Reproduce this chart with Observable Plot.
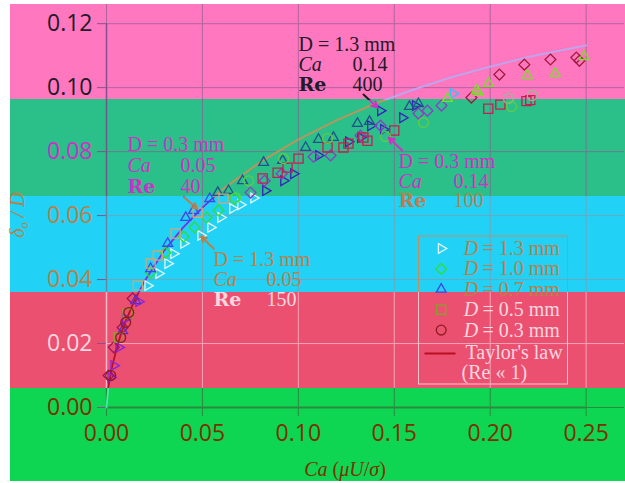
<!DOCTYPE html>
<html><head><meta charset="utf-8">
<script src="https://cdn.jsdelivr.net/npm/d3@7"></script>
<script src="https://cdn.jsdelivr.net/npm/@observablehq/plot@0.6"></script>
<style>
body{margin:0;background:#fff;}
#wrap{position:relative;width:625px;height:483px;overflow:hidden;}
#bg{position:absolute;left:10px;top:4px;width:615px;height:477px;
background:linear-gradient(to bottom,#ff77be 0px,#ff77be 95px,#2bbf8a 95px,#2bbf8a 192px,#22d1f6 192px,#22d1f6 288px,#ec5070 288px,#ec5070 384px,#0ed653 384px,#0ed653 477px);}
#chart{position:absolute;left:0;top:0;}
.ax{position:absolute;font-family:"Liberation Serif",serif;font-size:20px;line-height:20px;white-space:nowrap;}
.ax sub{font-size:0.62em;vertical-align:baseline;position:relative;top:0.3em;}
#xlab{left:345px;top:459px;transform:translateX(-50%);color:#7a3200;}
#ylab{left:18px;top:215px;transform:translate(-50%,-50%) rotate(-90deg);color:#b8804a;}
</style></head>
<body>
<div id="wrap">
<div id="bg"></div>
<svg id="defs" width="0" height="0" style="position:absolute;left:0;top:0"></svg>
<div id="chart"></div>
<div id="xlab" class="ax"><i>Ca</i> (<i>μU</i>/<i>σ</i>)</div>
<div id="ylab" class="ax"><i>δ<sub>o</sub> / D</i></div>
</div>
<script>
// ---------- data ----------
const xTicks = [0, 0.05, 0.10, 0.15, 0.20, 0.25];
const yTicks = [0, 0.02, 0.04, 0.06, 0.08, 0.10, 0.12];

// D = 1.3 mm (right triangles)
const ca13 = [0.0022,0.0038,0.0064,0.0099,0.0168,0.0215,0.0272,0.0319,0.035,0.0402,0.0491,0.0543,0.0595,0.0657,0.0699,0.0767,0.0829,0.0923,0.0975,0.1105,0.1261,0.1324,0.1376,0.1444,0.1428,0.1543,0.161,0.1808];
const d13  = [0.0094,0.0131,0.0188,0.0278,0.0331,0.0381,0.0419,0.045,0.0481,0.0513,0.0538,0.0563,0.0594,0.0622,0.0634,0.0655,0.0678,0.0709,0.0731,0.0788,0.0831,0.0844,0.0881,0.0869,0.0928,0.0906,0.0944,0.0981];
// D = 1.0 mm (diamonds)
const ca10 = [0.0011,0.0038,0.0084,0.0136,0.023,0.0308,0.0402,0.0459,0.0522,0.0584,0.0668,0.0751,0.0824,0.0913,0.1079,0.1168,0.1324,0.1428,0.1626,0.1673,0.1746,0.1902,0.2048,0.2178,0.2314,0.2449,0.2465];
const d10  = [0.01,0.0188,0.025,0.0341,0.0422,0.0484,0.0534,0.0563,0.0594,0.0616,0.0653,0.0672,0.0709,0.0731,0.0784,0.0788,0.085,0.0881,0.0919,0.0928,0.0944,0.0969,0.1041,0.1072,0.1088,0.1094,0.1084];
// D = 0.7 mm (triangles)
const ca07 = [0.0084,0.0152,0.023,0.0319,0.0413,0.0454,0.0538,0.058,0.0636,0.0709,0.0819,0.0918,0.1038,0.1105,0.1183,0.1308,0.1371,0.1579,0.1626,0.1777,0.1928,0.1938,0.1991,0.2194,0.2339,0.249];
const d07  = [0.024,0.0334,0.0434,0.0513,0.0594,0.0616,0.0653,0.0672,0.0678,0.0709,0.0766,0.0772,0.0813,0.0838,0.0844,0.0888,0.0894,0.0941,0.095,0.0966,0.0991,0.0985,0.1013,0.1038,0.1044,0.1097];
// D = 0.5 mm (squares)
const ca05 = [0.0064,0.011,0.0163,0.023,0.0267,0.036,0.0475,0.061,0.0814,0.0892,0.0944,0.1001,0.1152,0.1235,0.1261,0.1339,0.136,0.15,0.199,0.2053,0.2189,0.2209];
const d05  = [0.0219,0.0294,0.0381,0.045,0.0475,0.0544,0.0609,0.0653,0.0716,0.0734,0.075,0.0778,0.0813,0.0813,0.0825,0.0844,0.0834,0.0866,0.0934,0.0947,0.0958,0.0961];
// D = 0.3 mm (circles)
const ca03 = [0.0022,0.0074,0.01,0.0116,0.0673,0.0741,0.0923,0.1152,0.1454,0.1652,0.2095,0.2111,0.2219];
const d03  = [0.01,0.0219,0.0266,0.0297,0.0656,0.0709,0.0778,0.0841,0.0847,0.0891,0.0966,0.0941,0.0975];
// Taylor's law curve
const taylorCa = [0,0.001,0.0025,0.005,0.0075,0.01,0.015,0.02,0.03,0.04,0.05,0.06,0.08,0.10,0.12,0.14,0.16,0.18,0.20,0.22,0.25];
const taylorD  = [0,0.0065,0.0116,0.0178,0.023,0.027,0.034,0.0396,0.049,0.0563,0.0625,0.068,0.0767,0.0838,0.0898,0.095,0.0994,0.1033,0.1066,0.1096,0.1132];

const seriesLabels = ["1.3", "1.0", "0.7", "0.5", "0.3"];
const annHeads = ["D = 1.3 mm", "D = 0.3 mm", "D = 0.3 mm", "D = 1.3 mm"];
const annCa = ["0.14", "0.05", "0.14", "0.05"];
const annRe = ["400", "40", "100", "150"];

// ---------- layout ----------
const W = 625, H = 483, ML = 106, MR = 1, MT = 4, MB = 76, XMAX = 0.27, YMAX = 0.126;
const xAt = px => (px - ML) / (W - ML - MR) * XMAX;
const yAt = py => (H - MB - py) / (H - MB - MT) * YMAX;
const bandPx = [99, 196, 292, 388];
const bandY = bandPx.map(yAt);
const band = v => v > bandY[0] ? 0 : v > bandY[1] ? 1 : v > bandY[2] ? 2 : v > bandY[3] ? 3 : 4;

// palettes per band: [pink, teal, cyan, red, green]
const textPal = ["#231a2a", "#d22ec8", "#b8804a", "#fbd6df", "#7a3200"];
const seriesPal = {
  "1.3": ["#2cc6f2", "#3a1ec0", "#e6f6f2", "#8a22e0", "#8a22e0"],
  "1.0": ["#a01a3c", "#8e3cc8", "#2ee02e", "#a0145a", "#a0145a"],
  "0.7": ["#76e02a", "#24508e", "#3c48e8", "#5a2ed0", "#5a2ed0"],
  "0.5": ["#6a1a38", "#c81c52", "#caa87a", "#86a02a", "#86a02a"],
  "0.3": ["#9ab890", "#62cc44", "#52d84e", "#8e1c1c", "#8e1c1c"]
};

function grad(id, cols) {
  const o = bandPx.map(p => (p / H).toFixed(4));
  let s = `<linearGradient id="${id}" gradientUnits="userSpaceOnUse" x1="0" y1="0" x2="0" y2="${H}">`;
  s += `<stop offset="0" stop-color="${cols[0]}"/>`;
  for (let i = 0; i < 4; i++) {
    s += `<stop offset="${o[i]}" stop-color="${cols[i]}"/><stop offset="${o[i]}" stop-color="${cols[i+1]}"/>`;
  }
  s += `<stop offset="1" stop-color="${cols[4]}"/></linearGradient>`;
  return s;
}
document.getElementById("defs").innerHTML = "<defs>" +
  grad("curveGrad", ["#b8a8f0", "#c89058", "#7a2ee8", "#b81020", "#48eaa8"]) +
  grad("gridGrad", ["#b2639f", "#6c7a8e", "#6fa6bc", "#f3a2b6", "#2c8a3e"]) +
  grad("axisGrad", ["#86508a", "#6a5a86", "#6a86a6", "#f8b8c6", "#2c8a3e"]) +
  grad("annGrad", ["#1a1a1a", "#d22ec8", "#b8804a", "#fbd6df", "#7a3200"]) +
  grad("boxGrad", ["#c09060", "#c09060", "#c09060", "#f4c4d0", "#f4c4d0"]) +
  "</defs>";

const triRight = {
  draw(ctx, size) {
    const s = Math.sqrt(size) * 0.6824, t = s / 2, u = s * Math.sqrt(3) / 2;
    ctx.moveTo(s, 0); ctx.lineTo(-t, u); ctx.lineTo(-t, -u); ctx.closePath();
  }
};
const symbols = {"1.3": triRight, "1.0": "diamond2", "0.7": "triangle2", "0.5": "square2", "0.3": "circle"};
const radii = {"1.3": 4.6, "1.0": 4.9, "0.7": 4.7, "0.5": 5.8, "0.3": 4.9};

const seriesData = {
  "1.3": ca13.map((c, i) => ({ca: c, dd: d13[i]})),
  "1.0": ca10.map((c, i) => ({ca: c, dd: d10[i]})),
  "0.7": ca07.map((c, i) => ({ca: c, dd: d07[i]})),
  "0.5": ca05.map((c, i) => ({ca: c, dd: d05[i]})),
  "0.3": ca03.map((c, i) => ({ca: c, dd: d03[i]}))
};
const taylor = taylorCa.map((c, i) => ({ca: c, dd: taylorD[i]}));

// annotation layout (pixel positions of text blocks)
const annLayout = [
  {px: 298, vx: 352, base: [50, 70, 90.5]},
  {px: 127, vx: 180, base: [150.5, 171.5, 192.5]},
  {px: 398, vx: 453, base: [167, 187, 206]},
  {px: 213, vx: 266, base: [265, 285, 305]}
];
const tcol = base => textPal[band(yAt(base - 6.5))];
const headRows = annHeads.map((t, i) => ({x: xAt(annLayout[i].px), y: yAt(annLayout[i].base[0]), text: t, fill: tcol(annLayout[i].base[0])}));
const caRows = annHeads.map((t, i) => ({x: xAt(annLayout[i].px), y: yAt(annLayout[i].base[1]), text: "Ca", fill: tcol(annLayout[i].base[1])}));
const reRows = annHeads.map((t, i) => ({x: xAt(annLayout[i].px), y: yAt(annLayout[i].base[2]), text: "Re", fill: tcol(annLayout[i].base[2])}));
const valRows = annHeads.flatMap((t, i) => [
  {x: xAt(annLayout[i].vx), y: yAt(annLayout[i].base[1]), text: annCa[i], fill: tcol(annLayout[i].base[1])},
  {x: xAt(annLayout[i].vx), y: yAt(annLayout[i].base[2]), text: annRe[i], fill: tcol(annLayout[i].base[2])}
]);
const arrows = [
  {t: [363, 94], h: [377, 107]},
  {t: [183.3, 196.5], h: [196.7, 208.3]},
  {t: [401.7, 150], h: [388.3, 137.3]},
  {t: [213.3, 248.3], h: [200.7, 236]}
];

// legend
const legRowPx = seriesLabels.map((s, i) => 248 + i * 20.4);
const legMarks = seriesLabels.map((s, i) => ({s, x: xAt(440.7), y: yAt(legRowPx[i])}));
const legText = seriesLabels.map((s, i) => ({x: xAt(463.3), x2: xAt(482), y: yAt(legRowPx[i]), text: "= " + s + " mm", fill: textPal[band(yAt(legRowPx[i]))]}));

const marks = [
  Plot.ruleX(xTicks, {stroke: "url(#gridGrad)", strokeWidth: 1}),
  Plot.ruleY(yTicks, {stroke: "url(#gridGrad)", strokeWidth: 1}),
  Plot.axisX(xTicks, {tickSize: 9, tickPadding: 8, tickFormat: d3.format(".2f"), fontSize: 23, fontFamily: "Open Sans", fill: "#7a3200", stroke: "#2c8a3e", label: null}),
  Plot.axisY(yTicks, {tickSize: 9, tickPadding: 5, tickFormat: d3.format(".2f"), fontSize: 23, fontFamily: "Open Sans", fill: d => textPal[band(d)], stroke: "url(#axisGrad)", label: null}),
  Plot.ruleX([0], {y1: 0, y2: 0.12, stroke: "url(#axisGrad)", strokeWidth: 1.5}),
  Plot.ruleY([0], {x1: 0, x2: 0.25, stroke: "#2c8a3e", strokeWidth: 2}),
  Plot.line(taylor, {x: "ca", y: "dd", stroke: "url(#curveGrad)", strokeWidth: 1.8})
];
for (const s of seriesLabels) {
  marks.push(Plot.dot(seriesData[s], {x: "ca", y: "dd", symbol: symbols[s], r: radii[s], fill: "none",
    stroke: d => seriesPal[s][band(d.dd)], strokeWidth: 1.3}));
}
marks.push(
  Plot.text(headRows, {x: "x", y: "y", text: "text", fill: "fill", textAnchor: "start", lineAnchor: "bottom", fontFamily: "Liberation Serif", fontSize: 20}),
  Plot.text(caRows, {x: "x", y: "y", text: "text", fill: "fill", textAnchor: "start", lineAnchor: "bottom", fontFamily: "Liberation Serif", fontSize: 20, fontStyle: "italic"}),
  Plot.text(reRows, {x: "x", y: "y", text: "text", fill: "fill", textAnchor: "start", lineAnchor: "bottom", fontFamily: "DejaVu Serif", fontSize: 19, fontWeight: "bold"}),
  Plot.text(valRows, {x: "x", y: "y", text: "text", fill: "fill", textAnchor: "start", lineAnchor: "bottom", fontFamily: "Liberation Serif", fontSize: 20}),
  Plot.arrow(arrows, {x1: d => xAt(d.t[0]), y1: d => yAt(d.t[1]), x2: d => xAt(d.h[0]), y2: d => yAt(d.h[1]),
    stroke: "url(#annGrad)", strokeWidth: 2, headLength: 11, headAngle: 55}),
  // legend
  Plot.rect([0], {x1: xAt(418.5), x2: xAt(567.5), y1: yAt(384), y2: yAt(236), fill: "none", stroke: "url(#boxGrad)", strokeWidth: 1})
);
for (let i = 0; i < seriesLabels.length; i++) {
  const s = seriesLabels[i];
  marks.push(Plot.dot([legMarks[i]], {x: "x", y: "y", symbol: symbols[s], r: radii[s], fill: "none",
    stroke: d => seriesPal[s][band(d.y)], strokeWidth: 1.3}));
}
marks.push(
  Plot.text(legText, {x: "x", y: "y", text: () => "D", fill: "fill", textAnchor: "start", fontFamily: "Liberation Serif", fontSize: 20, fontStyle: "italic"}),
  Plot.text(legText, {x: "x2", y: "y", text: "text", fill: "fill", textAnchor: "start", fontFamily: "Liberation Serif", fontSize: 20}),
  Plot.link([0], {x1: xAt(424), x2: xAt(455), y1: yAt(353), y2: yAt(353), stroke: "url(#curveGrad)", strokeWidth: 2}),
  Plot.text(["Taylor's law"], {x: xAt(465), y: yAt(352), text: d => d, fill: textPal[3], textAnchor: "start", fontFamily: "Liberation Serif", fontSize: 20}),
  Plot.text(["(Re « 1)"], {x: xAt(461), y: yAt(372.5), text: d => d, fill: textPal[3], textAnchor: "start", fontFamily: "Liberation Serif", fontSize: 20})
);

const chart = Plot.plot({
  width: W, height: H,
  marginLeft: ML, marginRight: MR, marginTop: MT, marginBottom: MB,
  x: {domain: [0, XMAX]},
  y: {domain: [0, YMAX]},
  color: {type: "identity"},
  style: {background: "transparent", overflow: "visible"},
  marks
});
document.getElementById("chart").appendChild(chart);
</script>
</body></html>
